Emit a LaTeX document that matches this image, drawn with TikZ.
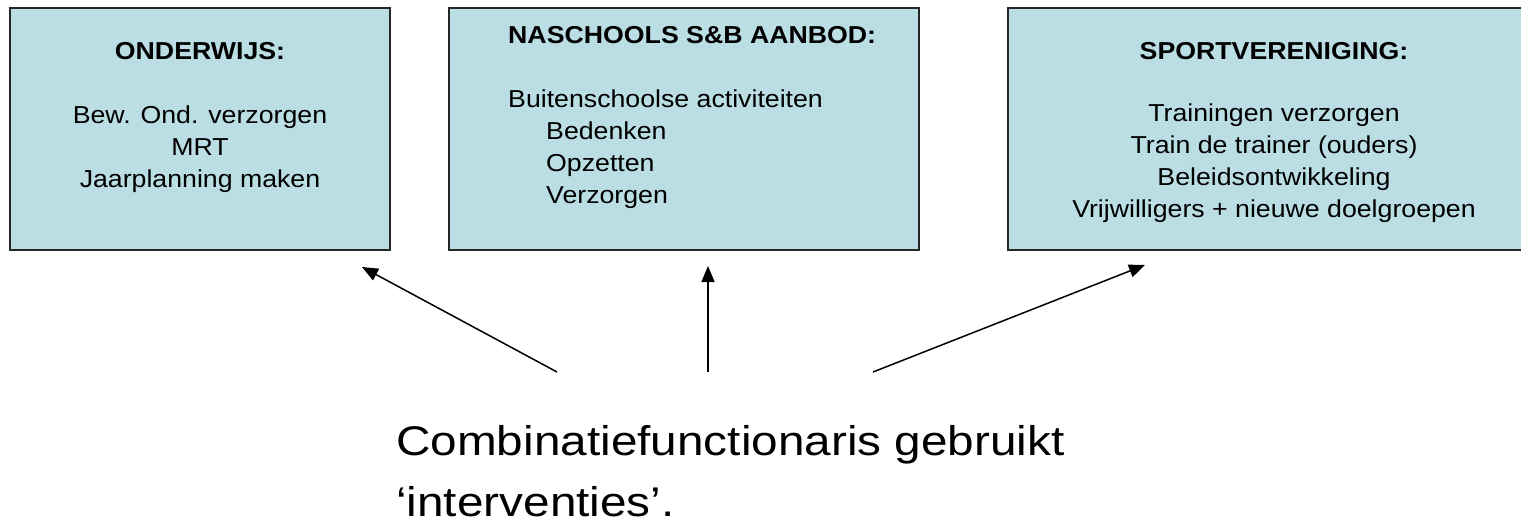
\documentclass[tikz,border=0pt]{standalone}
\usepackage{fontspec}
\setmainfont{Liberation Sans}
\newfontfamily\bxfam[FakeStretch=1.09]{Liberation Sans}
\newfontfamily\btfam[FakeStretch=1.15]{Liberation Sans}
\usetikzlibrary{arrows.meta}
\definecolor{boxfill}{RGB}{187,222,229}
\tikzset{
  panel/.style={draw=black!85, line width=1.6pt, fill=boxfill},
  boxtext/.style={font=\bxfam\fontsize{24.5}{32}\selectfont, inner sep=0pt},
  bigtext/.style={font=\btfam\fontsize{41.5}{61}\selectfont, inner sep=0pt, align=left},
  conn/.style={line width=1.5pt, -{Triangle[length=16pt,width=13pt]}}
}
\begin{document}
\begin{tikzpicture}[x=1pt,y=-1pt]
\useasboundingbox (0,0) rectangle (1521,520);
\clip (0,0) rectangle (1521,520);
% boxes
\draw[panel] (10,8) rectangle (390,250);
\draw[panel] (449,8) rectangle (919,250);
\draw[panel] (1008,8) rectangle (1540,250);
% box 1 (base anchor = baseline of last line)
\node[boxtext, anchor=base] (t1) at (200,59) {\textbf{ONDERWIJS:}};
\node[boxtext, anchor=base, align=center] (l1) at (200,187)
  {Bew. Ond. verzorgen\\MRT\\Jaarplanning maken};
% box 2
\node[boxtext, anchor=base west] (t2) at (508,43) {\textbf{NASCHOOLS S\&B AANBOD:}};
\node[boxtext, anchor=base west, align=left] (l2) at (508,203)
  {Buitenschoolse activiteiten\\\hspace*{38pt}Bedenken\\\hspace*{38pt}Opzetten\\\hspace*{38pt}Verzorgen};
% box 3
\node[boxtext, anchor=base] (t3) at (1274,59) {\textbf{SPORTVERENIGING:}};
\node[boxtext, anchor=base, align=center] (l3) at (1274,217)
  {Trainingen verzorgen\\Train de trainer (ouders)\\Beleidsontwikkeling\\Vrijwilligers + nieuwe doelgroepen};
% bottom text
\node[bigtext, anchor=base west] (cf) at (396,516)
  {Combinatiefunctionaris gebruikt\\‘interventies’.};
% arrows
\coordinate (a1s) at (557,372);
\coordinate (a1e) at (362,267);
\coordinate (a2s) at (708,372);
\coordinate (a2e) at (708,266);
\coordinate (a3s) at (873,372);
\coordinate (a3e) at (1145,265);
\draw[conn] (a1s) -- (a1e);
\draw[conn] (a2s) -- (a2e);
\draw[conn] (a3s) -- (a3e);
\end{tikzpicture}
\end{document}
